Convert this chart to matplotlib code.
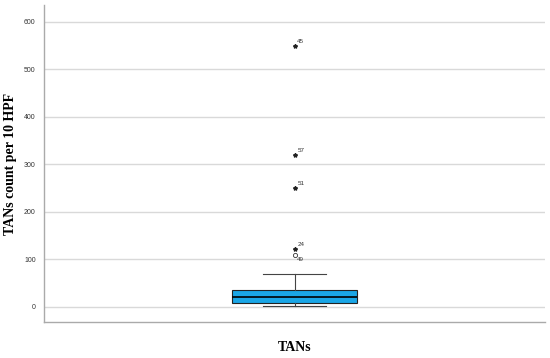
import matplotlib.pyplot as plt

# box summary
q1 = 9
median = 20
q3 = 35
whisker_low = 2
whisker_high = 70

# outliers: (value, case label, kind)
outlier_values = [549, 319, 250, 121, 110]
outlier_labels = ['45', '57', '51', '24', '49']
outlier_kinds = ['*', '*', '*', '*', 'o']

yticks = [0, 100, 200, 300, 400, 500, 600]

fig = plt.figure(figsize=(5.5, 3.58), dpi=100)
ax = fig.add_axes([0.08, 0.1006, 0.911, 0.8854])

stats = [{'q1': q1, 'med': median, 'q3': q3, 'whislo': whisker_low,
          'whishi': whisker_high, 'fliers': [], 'label': ''}]
ax.bxp(stats, positions=[1], widths=0.25, patch_artist=True, showfliers=False,
       boxprops=dict(facecolor='#1aa6e6', edgecolor='#222222', linewidth=0.8),
       medianprops=dict(color='black', linewidth=1.2),
       whiskerprops=dict(color='#444444', linewidth=0.8),
       capprops=dict(color='#444444', linewidth=0.8), capwidths=0.125)

for v, lab, k in zip(outlier_values, outlier_labels, outlier_kinds):
    if k == '*':
        ax.plot(1, v, marker='*', color='#222222', markersize=3, linestyle='none')
        ax.annotate(lab, (1, v), xytext=(2, 2), textcoords='offset points',
                    fontsize=4.5, family='Liberation Sans', color='#333333')
    else:
        ax.plot(1, v, marker='o', markerfacecolor='white', markeredgecolor='#333333',
                markersize=3, markeredgewidth=0.6, linestyle='none')
        ax.annotate(lab, (1, v), xytext=(2, -5), textcoords='offset points',
                    fontsize=4.5, family='Liberation Sans', color='#333333')

ax.set_xlim(0.5, 1.5)
ax.set_ylim(-32, 635)
ax.set_yticks(yticks)
ax.set_yticklabels([str(t) for t in yticks], fontsize=5, family='Liberation Sans',
                   color='#333333')
ax.set_xticks([])
ax.tick_params(axis='y', length=0, pad=6)
ax.grid(axis='y', color='#d9d9d9', linewidth=1)
ax.set_axisbelow(True)
for s in ['top', 'right']:
    ax.spines[s].set_visible(False)
for s in ['left', 'bottom']:
    ax.spines[s].set_color('#aaaaaa')
    ax.spines[s].set_linewidth(1)

ax.set_ylabel('TANs count per 10 HPF', family='Liberation Serif', fontsize=10,
              fontweight='bold')
ax.yaxis.set_label_coords(-0.054, 0.5)
ax.set_xlabel('TANs', family='Liberation Serif', fontsize=10, fontweight='bold',
              labelpad=14)

fig.savefig('out.png', dpi=100)
